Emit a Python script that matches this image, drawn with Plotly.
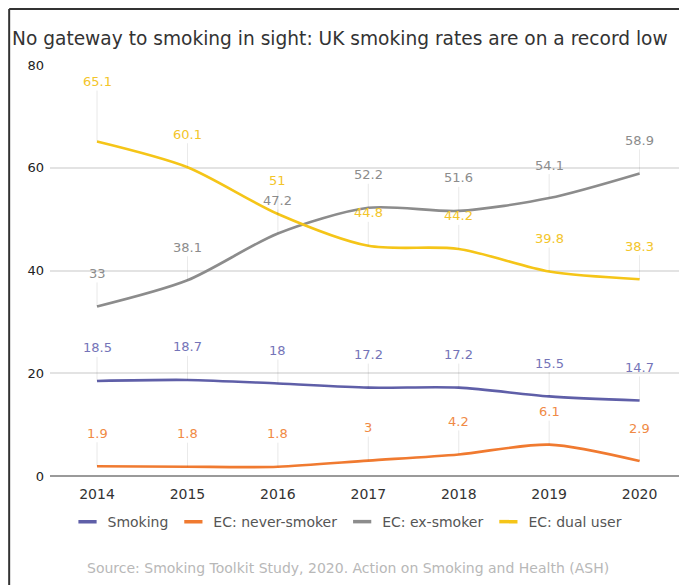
import plotly.graph_objects as go

years = [2014, 2015, 2016, 2017, 2018, 2019, 2020]
smoking = [18.5, 18.7, 18, 17.2, 17.2, 15.5, 14.7]
never_smoker = [1.9, 1.8, 1.8, 3, 4.2, 6.1, 2.9]
ex_smoker = [33, 38.1, 47.2, 52.2, 51.6, 54.1, 58.9]
dual_user = [65.1, 60.1, 51, 44.8, 44.2, 39.8, 38.3]
y_ticks = [0, 20, 40, 60, 80]

FONT = "DejaVu Sans, Liberation Sans, Arial, sans-serif"

series = [
    ("Smoking", smoking, "#5f5fa8", "#7474b8"),
    ("EC: never-smoker", never_smoker, "#f07a30", "#f08a45"),
    ("EC: ex-smoker", ex_smoker, "#8c8c8c", "#8c8c8c"),
    ("EC: dual user", dual_user, "#f5c518", "#f3c52a"),
]

fig = go.Figure()
annotations = []
for name, vals, col, lcol in series:
    fig.add_trace(go.Scatter(
        x=years, y=vals, mode="lines", name=name, showlegend=False,
        line=dict(color=col, width=2.6, shape="spline", smoothing=0.8),
        hoverinfo="x+y+name",
    ))
    for i, (xv, yv) in enumerate(zip(years, vals)):
        off = -33
        if name == "EC: dual user" and i == 0:
            off = -60
        annotations.append(dict(
            x=xv, y=yv, xref="x", yref="y", text=str(yv),
            showarrow=True, arrowhead=0, arrowwidth=0.8,
            arrowcolor="rgba(0,0,0,0.10)", ax=0, ay=off,
            font=dict(size=13, color=lcol, family=FONT),
        ))

# legend entries with short line symbols
for name, vals, col, lcol in series:
    fig.add_trace(go.Scatter(
        x=[None], y=[None], mode="markers", name=name, showlegend=True,
        marker=dict(symbol="line-ew", size=13, color=col, line=dict(color=col, width=3.5)),
    ))

annotations.append(dict(
    text="Source: Smoking Toolkit Study, 2020. Action on Smoking and Health (ASH)",
    xref="paper", yref="paper", x=0.47, y=-0.225, xanchor="center", yanchor="middle",
    showarrow=False, font=dict(size=14, color="#b8b8b8", family=FONT),
))
annotations.append(dict(
    text="No gateway to smoking in sight: UK smoking rates are on a record low",
    xref="paper", yref="paper", x=-0.063, y=1.065, xanchor="left", yanchor="middle",
    showarrow=False, font=dict(size=18.6, color="#333333", family=FONT),
))

shapes = [
    dict(type="line", xref="paper", yref="paper", x0=-0.0645, x1=-0.0645, y0=1.136, y1=-0.35,
         line=dict(color="#333333", width=2)),
    dict(type="line", xref="paper", yref="paper", x0=-0.0645, x1=1.05, y0=1.136, y1=1.136,
         line=dict(color="#333333", width=2)),
]

fig.update_layout(
    width=687, height=585,
    margin=dict(l=42, r=12, t=57, b=117),
    paper_bgcolor="white", plot_bgcolor="white",
    font=dict(family=FONT, color="#333333"),
    showlegend=True,
    legend=dict(orientation="h", x=0.47, xanchor="center", y=-0.112, yanchor="middle",
                font=dict(size=14, color="#555555", family=FONT), itemwidth=30,
                traceorder="normal", tracegroupgap=0),
    annotations=annotations,
    shapes=shapes,
    xaxis=dict(
        range=[2013.48, 2020.48], tickvals=years, ticktext=[str(y) for y in years],
        showgrid=False, zeroline=False, showline=False, ticks="",
        tickfont=dict(size=14, color="#333333", family=FONT), ticklabelstandoff=8,
        fixedrange=True,
    ),
    yaxis=dict(
        range=[0, 80], tickvals=y_ticks, showgrid=True, gridcolor="#e3e3e3", gridwidth=1.5,
        zeroline=True, zerolinecolor="#9a9a9a", zerolinewidth=2, showline=False,
        tickfont=dict(size=13, color="#222222", family=FONT), ticks="", ticklabelstandoff=5,
    ),
)

fig.write_html("out.html")
